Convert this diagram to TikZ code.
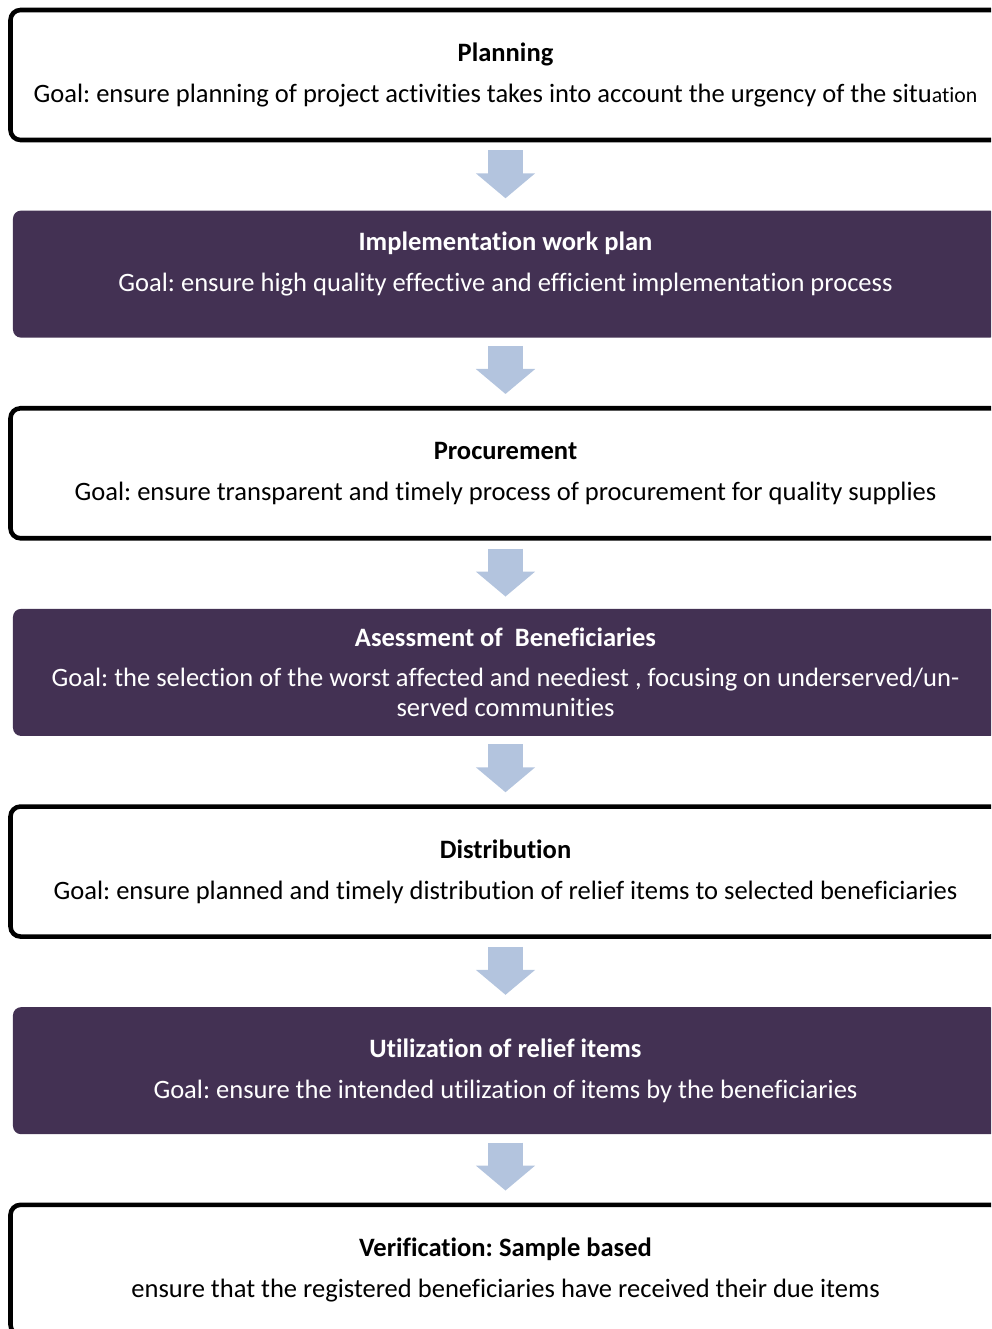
\documentclass[tikz,border=0pt]{standalone}
\usepackage{fontspec}
\setmainfont{Carlito}[Ligatures={NoCommon}]
\usetikzlibrary{arrows.meta,positioning}
\definecolor{plum}{RGB}{67,49,83}
\definecolor{paleblue}{RGB}{179,196,222}
\tikzset{
  lightcard/.style={draw=black, line width=2.6pt, rounded corners=0.2cm, fill=white, minimum width=19.8cm, minimum height=2.6cm, align=center, text=black, font=\fontsize{15.1}{17}\selectfont},
  darkcard/.style={draw=none, fill=plum, rounded corners=0.16cm, minimum width=19.7cm, minimum height=2.54cm, align=center, text=white, font=\fontsize{15.1}{17}\selectfont},
  flow/.style={-{Triangle[width=1.16cm, length=0.5cm]}, line width=0.7cm, draw=paleblue, shorten <=0.16cm, shorten >=0.24cm}
}
\frenchspacing

\begin{document}
\begin{tikzpicture}[node distance=1.36cm]
  \useasboundingbox (0,0) rectangle (19.82,-26.58);
  \clip (0,0) rectangle (19.82,-26.58);

  \node[lightcard] (plan) at (10.11,-1.5) {\textbf{Planning}\\[6.5pt]Goal: ensure planning of project activities takes into account the urgency of the situ{\fontsize{12.4}{14}\selectfont ation}};
  % empty last line lifts the text a little
  \node[darkcard, below=of plan] (impl) {\textbf{Implementation work plan}\\[6.5pt]Goal: ensure high quality effective and efficient implementation process\\[-0.1cm]\mbox{}};
  \node[lightcard, below=of impl] (proc) {\textbf{Procurement}\\[6.5pt]Goal: ensure transparent and timely process of procurement for quality supplies};
  \node[darkcard, below=of proc] (assess) {\textbf{Asessment of\ \ Beneficiaries}\\[6pt]Goal: the selection of the worst affected and neediest , focusing on underserved/un-\\served communities};
  \node[lightcard, below=of assess] (distr) {\textbf{Distribution}\\[6.5pt]Goal: ensure planned and timely distribution of relief items to selected beneficiaries};
  \node[darkcard, below=of distr] (util) {\textbf{Utilization of relief items}\\[6.5pt]Goal: ensure the intended utilization of items by the beneficiaries};
  \node[lightcard, below=of util] (verif) {\textbf{Verification: Sample based}\\[6.5pt]ensure that the registered beneficiaries have received their due items};

  \draw[flow] (plan) -- (impl);
  \draw[flow] (impl) -- (proc);
  \draw[flow] (proc) -- (assess);
  \draw[flow] (assess) -- (distr);
  \draw[flow] (distr) -- (util);
  \draw[flow] (util) -- (verif);
\end{tikzpicture}
\end{document}
